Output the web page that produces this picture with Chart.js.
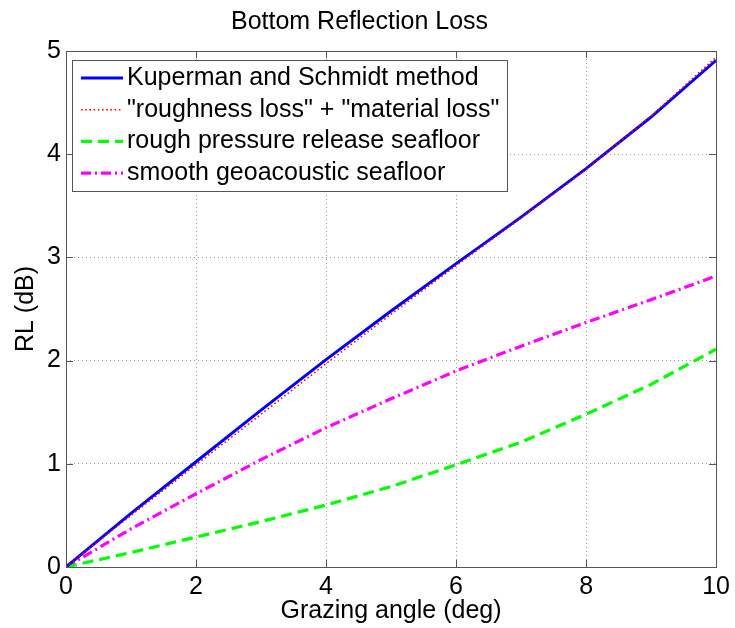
<!DOCTYPE html>
<html>
<head>
<meta charset="utf-8">
<script src="https://cdn.jsdelivr.net/npm/chart.js@4"></script>
<style>
  html, body { margin: 0; padding: 0; background: #ffffff; }
  #wrap { width: 735px; height: 628px; }
</style>
</head>
<body>
<div id="wrap"><canvas id="c" width="735" height="628"></canvas></div>
<script>
// ---- Data ----
const chartTitle = "Bottom Reflection Loss";
const xAxisTitle = "Grazing angle (deg)";
const yAxisTitle = "RL (dB)";
const seriesNames = [
  "Kuperman and Schmidt method",
  "\"roughness loss\" + \"material loss\"",
  "rough pressure release seafloor",
  "smooth geoacoustic seafloor"
];
const grazingAngle   = [0, 1, 2, 3, 4, 5, 6, 7, 8, 9, 10];
const kupermanRL     = [0, 0.52, 1.02, 1.52, 2.01, 2.48, 2.94, 3.39, 3.86, 4.36, 4.91];
const sumLossRL      = [0, 0.50, 0.99, 1.48, 1.97, 2.45, 2.92, 3.38, 3.85, 4.37, 4.94];
const roughPressRL   = [0, 0.14, 0.29, 0.44, 0.60, 0.78, 0.99, 1.21, 1.48, 1.77, 2.11];
const smoothGeoRL    = [0, 0.37, 0.71, 1.04, 1.35, 1.63, 1.90, 2.14, 2.37, 2.59, 2.82];
const xTicks = [0, 2, 4, 6, 8, 10];
const yTicks = [0, 1, 2, 3, 4, 5];

const FONT = "'Liberation Sans', Arial, Helvetica, sans-serif";
const AXIS_COLOR = "#555555";

function pts(ys) { return grazingAngle.map((x, i) => ({ x: x, y: ys[i] })); }

const datasets = [
  { label: seriesNames[0], data: pts(kupermanRL), borderColor: "#0000ff", borderWidth: 3, borderDash: [], order: 1 },
  { label: seriesNames[1], data: pts(sumLossRL), borderColor: "#ff0000", borderWidth: 1.6, borderDash: [1.6, 2.6], order: 0 },
  { label: seriesNames[2], data: pts(roughPressRL), borderColor: "#00ff00", borderWidth: 3.2, borderDash: [11, 6], order: 2 },
  { label: seriesNames[3], data: pts(smoothGeoRL), borderColor: "#ff00ff", borderWidth: 3.2, borderDash: [10, 4, 2, 4], order: 3 }
].map(d => Object.assign(d, { pointRadius: 0, tension: 0, fill: false, borderCapStyle: "butt" }));

// Box, inward ticks and in-plot legend (MATLAB style)
const matlabAxes = {
  id: "matlabAxes",
  afterDatasetsDraw(chart) {
    const { ctx, chartArea: a, scales: { x, y } } = chart;
    ctx.save();
    ctx.strokeStyle = AXIS_COLOR;
    ctx.lineWidth = 1;
    ctx.setLineDash([]);
    ctx.strokeRect(Math.round(a.left) + 0.5, Math.round(a.top) + 0.5,
                   Math.round(a.right - a.left), Math.round(a.bottom - a.top));
    const tl = 7;
    ctx.beginPath();
    xTicks.forEach(v => {
      const px = Math.round(x.getPixelForValue(v)) + 0.5;
      ctx.moveTo(px, a.bottom); ctx.lineTo(px, a.bottom - tl);
      ctx.moveTo(px, a.top); ctx.lineTo(px, a.top + tl);
    });
    yTicks.forEach(v => {
      const py = Math.round(y.getPixelForValue(v)) + 0.5;
      ctx.moveTo(a.left, py); ctx.lineTo(a.left + tl, py);
      ctx.moveTo(a.right, py); ctx.lineTo(a.right - tl, py);
    });
    ctx.stroke();

    // legend
    ctx.font = "25px " + FONT;
    const boxL = a.left + 6, boxT = a.top + 9;
    const lineX0 = boxL + 9, lineX1 = boxL + 51, textX = boxL + 55;
    const rowH = 31.7, firstRow = boxT + 18;
    let maxW = 0;
    chart.data.datasets.forEach(d => { maxW = Math.max(maxW, ctx.measureText(d.label).width); });
    const boxW = (textX - boxL) + maxW + 8;
    const boxH = 131;
    ctx.fillStyle = "#ffffff";
    ctx.fillRect(boxL, boxT, boxW, boxH);
    ctx.strokeStyle = AXIS_COLOR;
    ctx.lineWidth = 1;
    ctx.strokeRect(Math.round(boxL) + 0.5, Math.round(boxT) + 0.5, Math.round(boxW), boxH);
    chart.data.datasets.forEach((d, i) => {
      const yy = firstRow + i * rowH;
      ctx.beginPath();
      ctx.setLineDash(d.borderDash || []);
      ctx.strokeStyle = d.borderColor;
      ctx.lineWidth = d.borderWidth;
      ctx.moveTo(lineX0, yy); ctx.lineTo(lineX1, yy);
      ctx.stroke();
      ctx.setLineDash([]);
      ctx.fillStyle = "#000000";
      ctx.textBaseline = "middle";
      ctx.textAlign = "left";
      ctx.fillText(d.label, textX, yy);
    });
    ctx.restore();
  }
};

new Chart(document.getElementById("c"), {
  type: "line",
  data: { datasets: datasets },
  options: {
    responsive: false,
    animation: false,
    devicePixelRatio: 1,
    layout: { padding: { top: 0, right: 16, left: 0, bottom: 0 } },
    plugins: {
      legend: { display: false },
      tooltip: { enabled: false },
      title: {
        display: true,
        text: chartTitle,
        color: "#000000",
        font: { family: FONT, size: 25, weight: "normal" },
        padding: { top: 7, bottom: 14 }
      }
    },
    scales: {
      x: {
        type: "linear",
        min: 0, max: 10,
        afterFit: s => { s.height = 61; },
        afterBuildTicks: s => { s.ticks = xTicks.map(v => ({ value: v })); },
        ticks: { color: "#000000", font: { family: FONT, size: 25 }, padding: 5, maxRotation: 0 },
        grid: {
          drawTicks: false,
          color: c => (c.tick && (c.tick.value === 0 || c.tick.value === 10)) ? "rgba(0,0,0,0)" : "#9a9a9a",
          lineWidth: 1
        },
        border: { display: false, dash: [1, 3] },
        title: { display: true, text: xAxisTitle, color: "#000000", font: { family: FONT, size: 25 }, padding: { top: 0, bottom: 2 } }
      },
      y: {
        type: "linear",
        min: 0, max: 5,
        afterFit: s => { s.width = 66; },
        afterBuildTicks: s => { s.ticks = yTicks.map(v => ({ value: v })); },
        ticks: { color: "#000000", font: { family: FONT, size: 25 }, padding: 5 },
        grid: {
          drawTicks: false,
          color: c => (c.tick && (c.tick.value === 0 || c.tick.value === 5)) ? "rgba(0,0,0,0)" : "#9a9a9a",
          lineWidth: 1
        },
        border: { display: false, dash: [1, 3] },
        title: { display: true, text: yAxisTitle, color: "#000000", font: { family: FONT, size: 25 }, padding: { top: 11, bottom: 0 } }
      }
    }
  },
  plugins: [matlabAxes]
});
</script>
</body>
</html>
